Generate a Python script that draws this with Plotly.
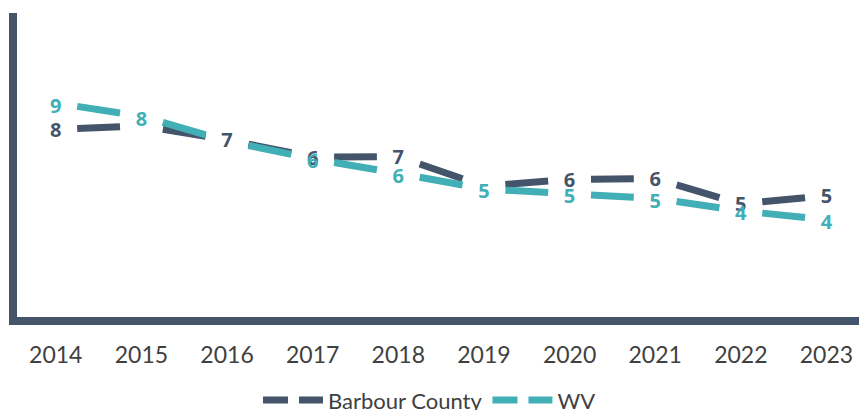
import plotly.graph_objects as go

years = ["2014", "2015", "2016", "2017", "2018", "2019", "2020", "2021", "2022", "2023"]
barbour = [7.59, 7.73, 7.18, 6.49, 6.51, 5.34, 5.61, 5.64, 4.64, 4.96]
wv = [8.63, 8.11, 7.13, 6.42, 5.85, 5.23, 5.04, 4.86, 4.36, 4.01]
# data labels as shown in the picture (some are not shown there)
barbour_labels = ["8", "", "7", "6", "7", "", "6", "6", "5", "5"]
wv_labels = ["9", "8", "", "6", "6", "5", "5", "5", "4", "4"]

series = [("Barbour County", barbour, barbour_labels, "#44546A", 2.5),
          ("WV", wv, wv_labels, "#41AFB5", 4.5)]

idx = list(range(len(years)))

Y_MIN, Y_MAX = 0.158, 12.2
PLOT_H = 410 - 13 - 93


def dash_segments(vals):
    xs, ys = [], []
    for i in range(len(vals) - 1):
        for f in (0.25, 0.75):
            xs.append(i + f)
            ys.append(vals[i] + (vals[i + 1] - vals[i]) * f)
        xs.append(None)
        ys.append(None)
    return xs, ys


fig = go.Figure()

for name, vals, labels, col, _ in series:
    xs, ys = dash_segments(vals)
    fig.add_trace(go.Scatter(x=xs, y=ys, mode="lines", name=name,
                             line=dict(color=col, width=7), showlegend=False,
                             hoverinfo="skip"))

for name, vals, labels, col, _ in series:
    fig.add_trace(go.Scatter(x=[None], y=[None], mode="lines", name=name,
                             line=dict(color=col, width=7, dash="25px,11px"),
                             showlegend=True))

for name, vals, labels, col, shift_px in series:
    dy = shift_px * (Y_MAX - Y_MIN) / PLOT_H
    fig.add_trace(go.Scatter(x=idx, y=[v - dy for v in vals], mode="text",
                             text=labels, textposition="middle center",
                             textfont=dict(family="Open Sans", size=20, color=col,
                                           weight="bold"),
                             showlegend=False, hoverinfo="skip"))

fig.update_layout(
    width=859, height=410,
    margin=dict(l=17, r=0, t=13, b=93),
    paper_bgcolor="white", plot_bgcolor="white",
    showlegend=True,
    legend=dict(orientation="h", x=0.5, xanchor="center", xref="container",
                y=0.024, yanchor="middle", yref="container",
                font=dict(family="Lato", size=22, color="#404040"),
                itemwidth=60, tracegroupgap=0),
    xaxis=dict(tickmode="array", tickvals=idx, ticktext=years, range=[-0.453, 9.38],
               showgrid=False, zeroline=False, showline=True, linecolor="#44546A",
               linewidth=8, ticks="", tickfont=dict(family="Lato", size=23, color="#404040"),
               ticklabelstandoff=10, automargin=False),
    yaxis=dict(range=[Y_MIN, Y_MAX], showgrid=False, zeroline=False, showline=True,
               linecolor="#44546A", linewidth=8, showticklabels=False, ticks="",
               automargin=False),
)

fig.write_html("out.html", config={"displayModeBar": False},
               post_script="document.body.style.margin='0';")
